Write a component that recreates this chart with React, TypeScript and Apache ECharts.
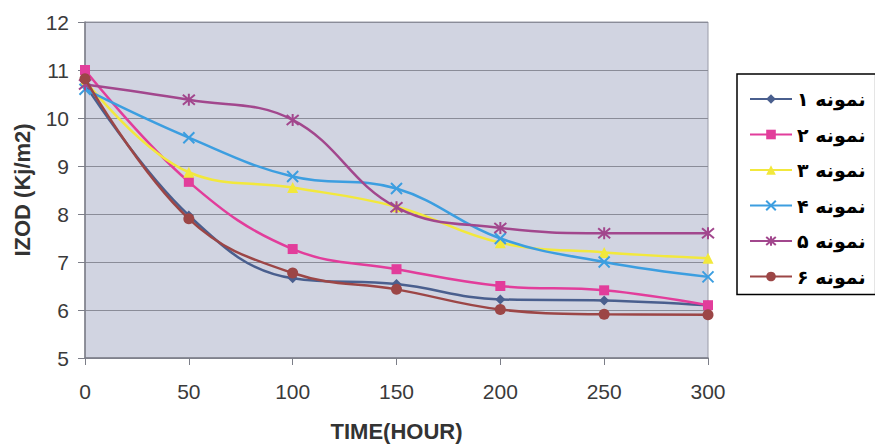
import React, { useEffect, useRef } from "react";
import * as echarts from "echarts";

const hours = [0, 50, 100, 150, 200, 250, 300];
const seriesNames = ["نمونه ۱", "نمونه ۲", "نمونه ۳", "نمونه ۴", "نمونه ۵", "نمونه ۶"];
const s1 = [10.7, 7.97, 6.66, 6.54, 6.22, 6.2, 6.1];
const s2 = [11.0, 8.67, 7.27, 6.85, 6.5, 6.41, 6.1];
const s3 = [10.78, 8.87, 8.55, 8.15, 7.4, 7.2, 7.08];
const s4 = [10.6, 9.59, 8.78, 8.53, 7.49, 7.0, 6.69];
const s5 = [10.7, 10.38, 9.96, 8.14, 7.71, 7.6, 7.6];
const s6 = [10.82, 7.9, 6.77, 6.43, 6.01, 5.91, 5.9];
const allValues = [s1, s2, s3, s4, s5, s6];
const colors = ["#4a5f8e", "#e23d9b", "#f2e83c", "#3c9ee0", "#a2478d", "#9c4646"];

const X_PATH = "path://M0,0L10,10M10,0L0,10";
const STAR_PATH = "path://M0,0L10,10M10,0L0,10M5,-1L5,11";
const symbols = ["diamond", "rect", "triangle", X_PATH, STAR_PATH, "circle"];
const symbolSizes = [10, 10, 11, 11, 12, 11];
const stroked = [false, false, false, true, true, false];

export default function App() {
  const ref = useRef<HTMLDivElement>(null);
  useEffect(() => {
    document.body.style.margin = "0";
    const chart = echarts.init(ref.current!, undefined, { renderer: "svg" });
    const series = allValues.map((vals, i) => ({
      name: seriesNames[i],
      type: "line",
      smooth: 0.4,
      data: hours.map((h, j) => [h, vals[j]]),
      symbol: symbols[i],
      symbolSize: symbolSizes[i],
      showSymbol: true,
      lineStyle: { color: colors[i], width: 2.5 },
      itemStyle: stroked[i]
        ? { color: colors[i], borderColor: colors[i], borderWidth: 2 }
        : { color: colors[i], borderWidth: 0 },
      z: 2 + i,
    }));
    chart.setOption({
      animation: false,
      backgroundColor: "#ffffff",
      grid: {
        left: 85,
        right: 167,
        top: 22,
        bottom: 86,
        containLabel: false,
        outerBoundsMode: "none",
        show: true,
        backgroundColor: "#d1d4e1",
        borderColor: "#9a9ca8",
        borderWidth: 1,
      },
      xAxis: {
        type: "value",
        min: 0,
        max: 300,
        interval: 50,
        name: "TIME(HOUR)",
        nameLocation: "middle",
        nameGap: 62,
        nameTextStyle: {
          fontFamily: "Liberation Sans",
          fontWeight: "bold",
          fontSize: 22,
          color: "#333",
        },
        axisLine: { show: true, lineStyle: { color: "#7c7e88", width: 1.5 } },
        axisTick: { show: true, length: 7, lineStyle: { color: "#7c7e88" } },
        axisLabel: {
          fontFamily: "Liberation Sans",
          fontSize: 21,
          color: "#3a3a3a",
          margin: 23,
        },
        splitLine: { show: false },
      },
      yAxis: {
        type: "value",
        min: 5,
        max: 12,
        interval: 1,
        name: "IZOD (Kj/m2)",
        nameLocation: "middle",
        nameGap: 52,
        nameTextStyle: {
          fontFamily: "Liberation Sans",
          fontWeight: "bold",
          fontSize: 22,
          color: "#333",
        },
        axisLine: { show: true, lineStyle: { color: "#7c7e88", width: 1.5 } },
        axisTick: { show: true, length: 7, lineStyle: { color: "#7c7e88" } },
        axisLabel: {
          fontFamily: "Liberation Sans",
          fontSize: 21,
          color: "#3a3a3a",
          margin: 16,
        },
        splitLine: { show: true, lineStyle: { color: "#8a8c98", width: 1 } },
      },
      legend: {
        orient: "vertical",
        left: 737,
        top: 74,
        width: 120,
        padding: [14, 10, 7, 12],
        itemWidth: 42,
        itemHeight: 12,
        itemGap: 13.5,
        borderColor: "#000",
        borderWidth: 1.5,
        backgroundColor: "#ffffff",
        data: seriesNames,
        textStyle: {
          fontFamily: "DejaVu Sans",
          fontWeight: "bold",
          fontSize: 19,
          lineHeight: 22,
          color: "#000",
        },
      },
      series,
    });
    return () => chart.dispose();
  }, []);
  return <div ref={ref} style={{ width: 875, height: 444 }} />;
}
